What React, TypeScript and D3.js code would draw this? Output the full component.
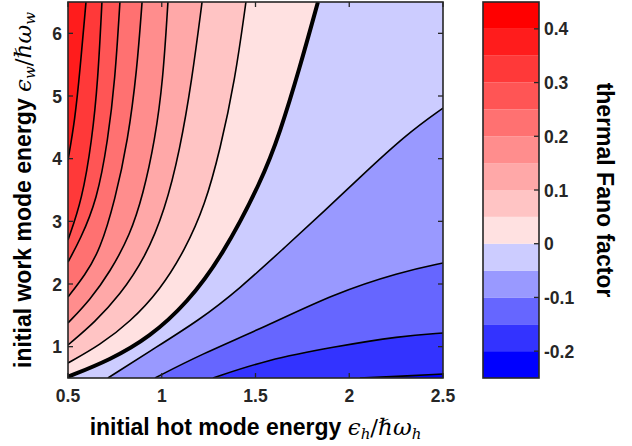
import React from "react";
import * as d3 from "d3";

// ---- data ----
const xTicks = [0.5, 1, 1.5, 2, 2.5];
const yTicks = [1, 2, 3, 4, 5, 6];
const cbTicks = [-0.2, -0.1, 0, 0.1, 0.2, 0.3, 0.4];
const bandEdges = [-0.25, -0.2, -0.15, -0.1, -0.05, 0, 0.05, 0.1, 0.15, 0.2, 0.25, 0.3, 0.35, 0.4, 0.45];
const bandColors = ["#0000FF", "#3333FF", "#6666FF", "#9999FF", "#CCCCFF", "#FFE1E1", "#FFC4C4", "#FFA8A8", "#FF8D8D", "#FF7171", "#FF5555", "#FF3939", "#FF1C1C", "#FF0000"];

// contour lines (x = eps_h, y = eps_w), each from boundary to boundary
const lineM020 = [[2.057, 0.5], [2.2, 0.516], [2.5, 0.564]];
const lineM015 = [[1.273, 0.5], [1.561, 0.79], [1.913, 0.995], [2.271, 1.17], [2.5, 1.218]];
const lineM010 = [[0.964, 0.5], [1.204, 0.87], [1.561, 1.33], [1.913, 1.84], [2.271, 2.19], [2.5, 2.335]];
const lineM005 = [[0.713, 0.5], [0.937, 0.93], [1.204, 1.43], [1.417, 1.93], [1.647, 2.56], [1.881, 3.2], [2.041, 3.66], [2.308, 4.4], [2.5, 4.808]];
const lineP000 = [[0.5, 0.52], [0.724, 0.787], [0.937, 1.154], [1.135, 1.697], [1.32, 2.43], [1.535, 3.66], [1.63, 4.41], [1.737, 5.46], [1.833, 6.5]];
const lineP005 = [[0.5, 0.739], [0.671, 1.027], [0.831, 1.394], [0.991, 1.904], [1.124, 2.543], [1.231, 3.261], [1.311, 4.138], [1.391, 5.255], [1.449, 6.5]];
const lineP010 = [[0.5, 1.027], [0.644, 1.394], [0.777, 1.824], [0.911, 2.415], [1.017, 3.181], [1.097, 4.138], [1.161, 5.255], [1.215, 6.5]];
const lineP015 = [[0.5, 1.378], [0.617, 1.745], [0.724, 2.191], [0.831, 2.782], [0.9, 3.42], [0.964, 4.298], [1.007, 5.255], [1.033, 6.5]];
const lineP020 = [[0.5, 1.793], [0.591, 2.144], [0.671, 2.543], [0.751, 3.34], [0.82, 4.298], [0.868, 5.415], [0.895, 6.5]];
const lineP025 = [[0.5, 2.351], [0.564, 2.702], [0.655, 3.34], [0.713, 4.298], [0.751, 5.255], [0.777, 6.5]];
const lineP030 = [[0.5, 2.702], [0.575, 3.34], [0.628, 4.298], [0.66, 5.255], [0.681, 6.5]];
const lineP035 = [[0.5, 3.979], [0.537, 4.617], [0.564, 5.415], [0.596, 6.5]];

const contourLevels = [-0.2, -0.15, -0.1, -0.05, 0, 0.05, 0.1, 0.15, 0.2, 0.25, 0.3, 0.35];
const contourLines = [lineM020, lineM015, lineM010, lineM005, lineP000, lineP005, lineP010, lineP015, lineP020, lineP025, lineP030, lineP035];

// ---- layout ----
const W = 632, H = 446;
const PL = 68, PR = 443, PT = 2, PB = 378;
const CBL = 483, CBR = 539;
const AX = "#262626";
const FONT = "'Liberation Sans', Arial, sans-serif";
const MATH = "'DejaVu Serif', 'Liberation Serif', serif";

export default function App() {
  const x = d3.scaleLinear().domain([0.5, 2.5]).range([PL, PR]);
  const y = d3.scaleLinear().domain([0.5, 6.5]).range([PB, PT]);
  const c = d3.scaleLinear().domain([-0.25, 0.45]).range([PB, PT]);

  const line = d3.line<number[]>().x(d => x(d[0])).y(d => y(d[1])).curve(d3.curveBasis);

  const fillPath = (pts: number[][]) => {
    let p = line(pts) as string;
    const s = pts[0], e = pts[pts.length - 1];
    if (e[0] >= 2.5) p += `L${x(2.5)},${y(6.5)}`;
    p += `L${x(0.5)},${y(6.5)}`;
    if (s[1] <= 0.5) p += `L${x(0.5)},${y(0.5)}`;
    return p + "Z";
  };
  const bandColor = (lev: number) => {
    const i = bandEdges.findIndex(b => Math.abs(b - lev) < 1e-9);
    return bandColors[i];
  };

  const tick = 5;
  const LBL = 23;
  const SUB = 15;
  return (
    <svg width={W} height={H} style={{ position: "absolute", left: 0, top: 0, background: "#fff" }} fontFamily={FONT}>
      <defs>
        <clipPath id="plotclip"><rect x={PL} y={PT} width={PR - PL} height={PB - PT} /></clipPath>
      </defs>
      <g clipPath="url(#plotclip)">
        <rect x={PL} y={PT} width={PR - PL} height={PB - PT} fill={bandColors[0]} />
        {contourLines.map((pts, i) => (
          <path key={"f" + i} d={fillPath(pts)} fill={bandColor(contourLevels[i])} stroke="none" />
        ))}
        {contourLines.map((pts, i) => (
          <path key={"l" + i} d={line(pts) as string} fill="none" stroke="#000" strokeWidth={contourLevels[i] === 0 ? 4 : 1.6} />
        ))}
      </g>
      {/* axes box */}
      <rect x={PL} y={PT} width={PR - PL} height={PB - PT} fill="none" stroke={AX} strokeWidth={1.6} />
      {xTicks.map(t => (
        <g key={"xt" + t}>
          <line x1={x(t)} x2={x(t)} y1={PB} y2={PB - tick} stroke={AX} strokeWidth={1.3} />
          <line x1={x(t)} x2={x(t)} y1={PT} y2={PT + tick} stroke={AX} strokeWidth={1.3} />
          <text x={x(t)} y={402} textAnchor="middle" fontSize={17.5} fontWeight="bold" fill={AX}>{String(t)}</text>
        </g>
      ))}
      {yTicks.map(t => (
        <g key={"yt" + t}>
          <line x1={PL} x2={PL + tick} y1={y(t)} y2={y(t)} stroke={AX} strokeWidth={1.3} />
          <line x1={PR} x2={PR - tick} y1={y(t)} y2={y(t)} stroke={AX} strokeWidth={1.3} />
          <text x={62} y={y(t) + 6.5} textAnchor="end" fontSize={17.5} fontWeight="bold" fill={AX}>{String(t)}</text>
        </g>
      ))}
      {/* x label */}
      <text x={(PL + PR) / 2} y={435} textAnchor="middle" fontSize={LBL} fontWeight="bold" fill="#000">
        initial hot mode energy{" "}
        <tspan fontFamily={MATH} fontStyle="italic" fontWeight="normal">ϵ</tspan>
        <tspan fontFamily={MATH} fontStyle="italic" fontWeight="normal" fontSize={SUB} dy={4}>h</tspan>
        <tspan fontFamily={MATH} fontWeight="normal" dy={-4}>/</tspan>
        <tspan fontFamily={MATH} fontStyle="italic" fontWeight="normal">ℏω</tspan>
        <tspan fontFamily={MATH} fontStyle="italic" fontWeight="normal" fontSize={SUB} dy={4}>h</tspan>
      </text>
      {/* y label */}
      <text transform={`translate(31,${(PT + PB) / 2}) rotate(-90)`} textAnchor="middle" fontSize={LBL} fontWeight="bold" fill="#000">
        initial work mode energy{" "}
        <tspan fontFamily={MATH} fontStyle="italic" fontWeight="normal">ϵ</tspan>
        <tspan fontFamily={MATH} fontStyle="italic" fontWeight="normal" fontSize={SUB} dy={4}>w</tspan>
        <tspan fontFamily={MATH} fontWeight="normal" dy={-4}>/</tspan>
        <tspan fontFamily={MATH} fontStyle="italic" fontWeight="normal">ℏω</tspan>
        <tspan fontFamily={MATH} fontStyle="italic" fontWeight="normal" fontSize={SUB} dy={4}>w</tspan>
      </text>
      {/* colorbar */}
      {bandColors.map((col, i) => (
        <rect key={"cb" + i} x={CBL} y={c(bandEdges[i + 1])} width={CBR - CBL} height={c(bandEdges[i]) - c(bandEdges[i + 1])} fill={col} />
      ))}
      <rect x={CBL} y={PT} width={CBR - CBL} height={PB - PT} fill="none" stroke={AX} strokeWidth={1.6} />
      {cbTicks.map(t => (
        <g key={"cbt" + t}>
          <line x1={CBR} x2={CBR - tick} y1={c(t)} y2={c(t)} stroke={AX} strokeWidth={1.3} />
          <text x={544} y={c(t) + 6.5} fontSize={17.5} fontWeight="bold" fill={AX}>{String(t)}</text>
        </g>
      ))}
      <text transform={`translate(597,${(PT + PB) / 2}) rotate(90)`} textAnchor="middle" fontSize={LBL} fontWeight="bold" fill="#000">
        thermal Fano factor
      </text>
    </svg>
  );
}
